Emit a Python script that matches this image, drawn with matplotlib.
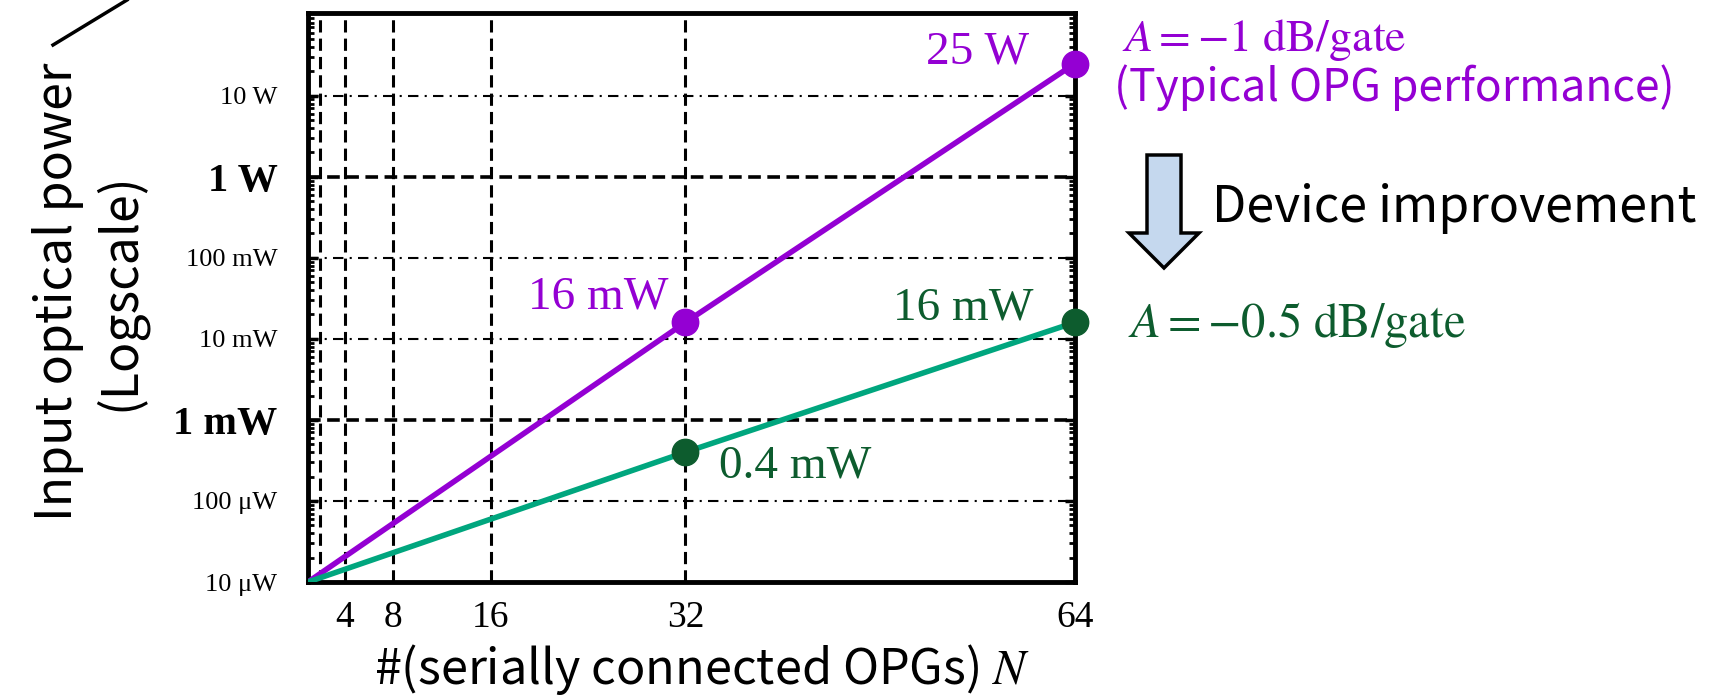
import matplotlib
matplotlib.use("Agg")
import matplotlib.pyplot as plt
from matplotlib.patches import Polygon
from matplotlib.lines import Line2D
from matplotlib.ticker import LogLocator, NullFormatter

plt.rcParams['mathtext.fontset'] = 'stix'

# data
n_points = [1, 32, 64]
p_1db = [1e-5, 1.6e-2, 25]        # A = -1 dB/gate
p_05db = [1e-5, 4e-4, 1.6e-2]     # A = -0.5 dB/gate
mark_n = [32, 64]
mark_1db = [1.6e-2, 25]
mark_05db = [4e-4, 1.6e-2]

xticks = [4, 8, 16, 32, 64]
xgrid = [2, 4, 8, 16, 32]
yticks = [1e-5, 1e-4, 1e-3, 1e-2, 1e-1, 1, 10]
ylabels = ["10 μW", "100 μW", "1 mW", "10 mW", "100 mW", "1 W", "10 W"]
ybold = ["1 mW", "1 W"]
ygrid_dashed = [1e-3, 1]
ygrid_dashdot = [1e-4, 1e-2, 1e-1, 10]

purple = "#9400D3"
teal = "#00A67E"
dgreen = "#0D5C2E"
sans = "Noto Sans CJK JP"
serif = "Liberation Serif"

fig = plt.figure(figsize=(17.15, 6.98), dpi=100)
ax = fig.add_axes([308/1715, 1-582/698, (1075-308)/1715, (582-13)/698])

ax.set_yscale("log")
ax.set_xlim(1, 64)
ax.set_ylim(1e-5, 1.05e2)

for x in xgrid:
    ax.axvline(x, color="k", lw=2.2, ls=(0, (4, 2)), zorder=1)
for y in ygrid_dashed:
    ax.axhline(y, color="k", lw=2.6, ls=(0, (3.5, 1.8)), zorder=1)
for y in ygrid_dashdot:
    ax.axhline(y, color="k", lw=1.5, ls=(0, (5, 3, 1, 3)), zorder=1)

ax.plot(n_points, p_1db, color=purple, lw=4, zorder=3, solid_capstyle="round")
ax.plot(n_points, p_05db, color=teal, lw=4, zorder=3, solid_capstyle="round")
ax.plot(mark_n, mark_1db, "o", color=purple, ms=19, zorder=4, clip_on=False)
ax.plot(mark_n, mark_05db, "o", color=dgreen, ms=19, zorder=4, clip_on=False)

ax.set_xticks(xticks)
ax.set_xticklabels([str(v) for v in xticks], fontfamily=serif, fontsize=27)
ax.tick_params(axis="x", length=0, pad=13)

ax.set_yticks(yticks)
ax.set_yticklabels(ylabels, fontfamily=serif)
for lab in ax.get_yticklabels():
    if lab.get_text() in ybold:
        lab.set_fontsize(29)
        lab.set_fontweight("bold")
    else:
        lab.set_fontsize(19)
ax.yaxis.set_minor_locator(LogLocator(base=10, subs=range(2, 10), numticks=20))
ax.yaxis.set_minor_formatter(NullFormatter())
ax.tick_params(axis="y", which="major", direction="in", length=7, width=2.5,
               left=True, right=True, pad=22)
ax.tick_params(axis="y", which="minor", direction="in", length=4, width=2,
               left=True, right=True)

for s in ax.spines.values():
    s.set_linewidth(3.5)

# x label placed by hand near the bottom edge, as in the original
fig.text(702/1715, 1/698, "#(serially connected OPGs) $N$", ha="center",
         va="bottom", fontfamily=sans, fontsize=35)

fig.text(58/1715, 1-292/698, "Input optical power", rotation=90, ha="center", va="center",
         fontfamily=sans, fontsize=36)
fig.text(120/1715, 1-292/698, "(Logscale)", rotation=90, ha="center", va="center",
         fontfamily=sans, fontsize=36)
fig.add_artist(Line2D([53/1715, 127/1715], [1-45/698, 1.0], transform=fig.transFigure,
                      color="k", lw=2.5))

# labels at points
ax.annotate("25 W", (64, 25), xytext=(-33, 8), textcoords="offset points", ha="right",
            va="center", color=purple, fontfamily=serif, fontsize=34)
ax.annotate("16 mW", (32, 1.6e-2), xytext=(-12, 18), textcoords="offset points", ha="right",
            va="center", color=purple, fontfamily=serif, fontsize=34)
ax.annotate("16 mW", (64, 1.6e-2), xytext=(-30, 10), textcoords="offset points", ha="right",
            va="center", color=dgreen, fontfamily=serif, fontsize=34)
ax.annotate("0.4 mW", (32, 4e-4), xytext=(24, -10), textcoords="offset points", ha="left",
            va="center", color=dgreen, fontfamily=serif, fontsize=34)

# right-side annotations
fig.text(1122/1715, 1-40/698, r"$A = -1\ \mathrm{dB/gate}$", ha="left", va="center",
         color=purple, fontsize=33)
fig.text(1114/1715, 1-88/698, "(Typical OPG performance)", ha="left", va="center",
         color=purple, fontfamily=sans, fontsize=32)
fig.text(1212/1715, 1-208/698, "Device improvement", ha="left", va="center",
         color="k", fontfamily=sans, fontsize=36)
fig.text(1128/1715, 1-325/698, r"$A = -0.5\ \mathrm{dB/gate}$", ha="left", va="center",
         color=dgreen, fontsize=35)

arrow_px = [(1147, 155), (1181, 155), (1181, 233), (1199, 233), (1164, 268),
            (1129, 233), (1147, 233)]
arrow = Polygon([(x/100, (698-y)/100) for x, y in arrow_px], closed=True,
                transform=fig.dpi_scale_trans, facecolor="#C5D8EE", edgecolor="k", lw=2.5)
fig.add_artist(arrow)

fig.savefig("out.png", dpi=100)
